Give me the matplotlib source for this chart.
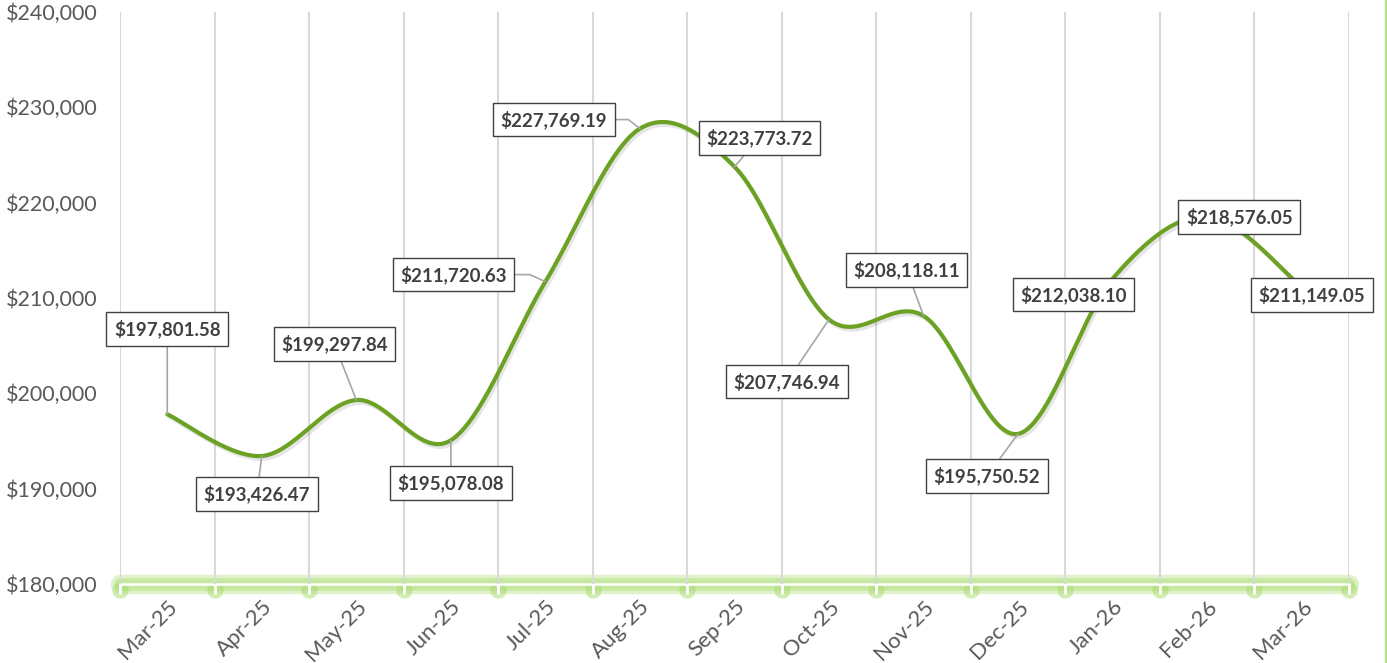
import numpy as np
import matplotlib.pyplot as plt
import matplotlib.patheffects as pe
from matplotlib.lines import Line2D

months = ["Mar-25", "Apr-25", "May-25", "Jun-25", "Jul-25", "Aug-25", "Sep-25",
          "Oct-25", "Nov-25", "Dec-25", "Jan-26", "Feb-26", "Mar-26"]
values = [197801.58, 193426.47, 199297.84, 195078.08, 211720.63, 227769.19,
          223773.72, 207746.94, 208118.11, 195750.52, 212038.10, 218576.05,
          211149.05]

# label offsets (pixels from the point) and whether a leader line is drawn
label_dx = [0, -5, -22, 0, -92, -86, 25, -42, -17, -31, -39, 32, 10]
label_dy = [85, -38, 56, -43, 7, 9, 29, -62, 46, -42, -16, -1, -8]
leader = [True, True, True, True, True, True, True, True, True, True,
          False, False, False]
# leaders with an elbow (angle of the last leg), None = straight
elbow = [None, None, None, None, -24, -38, None, None, None, None,
         None, None, None]

green = "#6CA224"
grey_txt = "#595959"
dark = "#404040"

plt.rcParams['font.family'] = ['Lato', 'DejaVu Sans']


def smooth(y, n=50):
    # excel style smoothing (catmull-rom / bezier)
    y = np.asarray(y, float)
    x = np.arange(len(y), dtype=float)
    py = np.concatenate([[y[0]], y, [y[-1]]])
    px = np.concatenate([[x[0]], x, [x[-1]]])
    xs, ys = [], []
    t = np.linspace(0, 1, n)
    for i in range(len(y) - 1):
        p0x, p1x = px[i + 1], px[i + 2]
        p0y, p1y = py[i + 1], py[i + 2]
        m0x, m1x = (px[i + 2] - px[i]) / 2, (px[i + 3] - px[i + 1]) / 2
        m0y, m1y = (py[i + 2] - py[i]) / 2, (py[i + 3] - py[i + 1]) / 2
        h00 = 2*t**3 - 3*t**2 + 1
        h10 = t**3 - 2*t**2 + t
        h01 = -2*t**3 + 3*t**2
        h11 = t**3 - t**2
        xs.append(h00*p0x + h10*m0x + h01*p1x + h11*m1x)
        ys.append(h00*p0y + h10*m0y + h01*p1y + h11*m1y)
    return np.concatenate(xs), np.concatenate(ys)


fig = plt.figure(figsize=(13.87, 6.63), dpi=100)
ax = fig.add_axes([120/1387, 79/663, 1229/1387, 572/663])

ax.set_xlim(-0.5, 12.5)
ax.set_ylim(180000, 240000)

for s in ax.spines.values():
    s.set_visible(False)

ax.set_xticks(np.arange(len(months)))
ax.set_xticklabels(months, rotation=45, ha='right', rotation_mode='anchor')
ax.set_xticks(np.arange(-0.5, len(months)), minor=True)
ax.tick_params(axis='x', which='major', length=0, pad=9, labelsize=16,
               labelcolor=grey_txt)
ax.tick_params(axis='x', which='minor', length=7, width=2, color='white')
ax.grid(True, which='minor', axis='x', color='#D9D9D9', lw=1.5, zorder=0)

yt = np.arange(180000, 240001, 10000)
ax.set_yticks(yt)
ax.set_yticklabels([f"${v:,.0f}" for v in yt])
ax.tick_params(axis='y', length=0, pad=16, labelsize=15.5, labelcolor=grey_txt)

# glowing category axis
ax.plot([-0.5, 12.5], [180000, 180000], lw=14, color='#A8DC6E', alpha=0.35,
        clip_on=False, solid_capstyle='round', zorder=1)
ax.plot([-0.5, 12.5], [180000, 180000], lw=9, color='#A8DC6E', alpha=0.45,
        clip_on=False, solid_capstyle='round', zorder=1)
ax.scatter(np.arange(-0.5, len(months)), [179400] * (len(months) + 1), s=140,
           color='#A8DC6E', alpha=0.5, lw=0, clip_on=False, zorder=1)
ax.plot([-0.5, 12.5], [180000, 180000], lw=1.8, color='white', clip_on=False,
        zorder=1.5)

sx, sy = smooth(values)
ax.plot(sx, sy, color=green, lw=3, zorder=3, solid_capstyle='round',
        path_effects=[pe.SimpleLineShadow(offset=(1.5, -2), shadow_color='k',
                                          alpha=0.1),
                      pe.Normal()])

for i, v in enumerate(values):
    ap = None
    if leader[i]:
        ap = dict(arrowstyle='-', color='#A6A6A6', lw=1.2, shrinkA=0, shrinkB=0)
        if elbow[i] is not None:
            ap['connectionstyle'] = f"angle,angleA=0,angleB={elbow[i]},rad=0"
            ap['relpos'] = (1, 0.5)
    ax.annotate(f"${v:,.2f}", xy=(i, v), xytext=(label_dx[i], label_dy[i]),
                textcoords='offset pixels', ha='center', va='center',
                fontsize=13.5, fontweight='bold', color=dark, zorder=5,
                bbox=dict(boxstyle='square,pad=0.4', fc='white', ec=dark, lw=1),
                arrowprops=ap, annotation_clip=False)

fig.add_artist(Line2D([1384.5/1387, 1384.5/1387], [0, 1], color='#D0D0D0', lw=1))
fig.add_artist(Line2D([1386/1387, 1386/1387], [0, 1], color='#B6E38A', lw=2))

fig.savefig("out.png", dpi=100)
